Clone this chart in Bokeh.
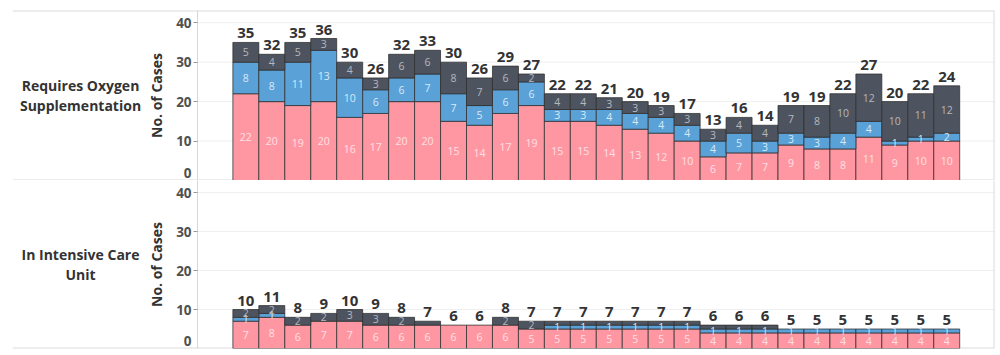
from bokeh.plotting import figure
from bokeh.layouts import column
from bokeh.models import Range1d, FixedTicker, ColumnDataSource
from bokeh.embed import file_html
from bokeh.resources import INLINE
from bokeh.core.properties import value

# ---- data ----
periods = list(range(28))
oxy_pink = [22, 20, 19, 20, 16, 17, 20, 20, 15, 14, 17, 19, 15, 15, 14, 13, 12, 10, 6, 7, 7, 9, 8, 8, 11, 9, 10, 10]
oxy_blue = [8, 8, 11, 13, 10, 6, 6, 7, 7, 5, 6, 6, 3, 3, 4, 4, 4, 4, 4, 5, 3, 3, 3, 4, 4, 1, 1, 2]
oxy_gray = [5, 4, 5, 3, 4, 3, 6, 6, 8, 7, 6, 2, 4, 4, 3, 3, 3, 3, 3, 4, 4, 7, 8, 10, 12, 10, 11, 12]

icu_pink = [7, 8, 6, 7, 7, 6, 6, 6, 6, 6, 6, 5, 5, 5, 5, 5, 5, 5, 4, 4, 4, 4, 4, 4, 4, 4, 4, 4]
icu_blue = [1, 1, 0, 0, 0, 0, 0, 0, 0, 0, 0, 0, 1, 1, 1, 1, 1, 1, 1, 1, 1, 1, 1, 1, 1, 1, 1, 1]
icu_gray = [2, 2, 2, 2, 3, 3, 2, 1, 0, 0, 2, 2, 1, 1, 1, 1, 1, 1, 1, 1, 1, 0, 0, 0, 0, 0, 0, 0]

y_ticks = [10, 20, 30, 40]
row_titles = [["Requires Oxygen", "Supplementation"], ["In Intensive Care", "Unit"]]
y_title = "No. of Cases"

PINK, PINK_TXT = "#ff97a2", "#ffe0e4"
BLUE, BLUE_TXT = "#5aa1d8", "#d8e9f6"
GRAY, GRAY_TXT = "#4e545f", "#b4b8bf"
RULE = "#dcdcdc"
FONT = "Open Sans"

# layout (data units along x): header column, axis position, right edge
X0, AXIS_X, X1 = -8.99, -1.86, 28.84
HEAD_X = -6.37
Y1 = 43.1


def make_panel(titles, pink, blue, gray, height, b_top, b_bottom, draw_top):
    p = figure(width=1000, height=height, x_range=Range1d(X0, X1), y_range=Range1d(0, Y1),
               output_backend="svg", toolbar_location=None,
               min_border_left=12, min_border_right=6, min_border_top=b_top, min_border_bottom=b_bottom)
    p.xaxis.visible = False
    p.xgrid.visible = False
    p.ygrid.visible = False
    p.outline_line_color = None
    p.background_fill_color = "white"
    p.border_fill_color = "white"

    # light grid lines within the plotting column only
    p.segment(x0=[AXIS_X] * len(y_ticks), x1=[X1] * len(y_ticks), y0=y_ticks, y1=y_ticks,
              line_color="#efefef", line_width=1)
    # panel rules (half of a 2px line is clipped at the frame edge -> 1px)
    ys = [0, Y1] if draw_top else [0]
    p.hspan(y=ys, line_color=RULE, line_width=2)
    p.vspan(x=[X1], line_color=RULE, line_width=2)

    ax = p.yaxis[0]
    ax.fixed_location = AXIS_X
    ax.ticker = FixedTicker(ticks=y_ticks)
    ax.axis_line_color = "#d6d6d6"
    ax.major_tick_line_color = "#9a9a9a"
    ax.major_tick_out = 4
    ax.major_tick_in = 0
    ax.minor_tick_line_color = None
    ax.major_label_standoff = 2
    ax.major_label_text_font = FONT
    ax.major_label_text_font_style = "bold"
    ax.major_label_text_font_size = "13.5px"
    ax.major_label_text_color = "#505050"
    ax.axis_label = y_title
    ax.axis_label_text_font = FONT
    ax.axis_label_text_font_style = "bold"
    ax.axis_label_text_font_size = "14px"
    ax.axis_label_text_color = "#333333"
    ax.axis_label_standoff = 7

    n = len(pink)
    bottoms = [0] * n
    seg_x, seg_y, seg_t, seg_c = [], [], [], []
    for vals, color, tcol, is_mid in ((pink, PINK, PINK_TXT, False), (blue, BLUE, BLUE_TXT, True),
                                      (gray, GRAY, GRAY_TXT, False)):
        xs = [periods[i] for i in range(n) if vals[i] > 0]
        b = [bottoms[i] for i in range(n) if vals[i] > 0]
        t = [bottoms[i] + vals[i] for i in range(n) if vals[i] > 0]
        src = ColumnDataSource(dict(x=xs, bottom=b, top=t))
        p.vbar(x="x", bottom="bottom", top="top", width=1.0, source=src,
               fill_color=color, line_color="#2e2e2e", line_alpha=0.75, line_width=1)
        for i in range(n):
            if vals[i] >= 2 or (is_mid and vals[i] >= 1):
                seg_x.append(periods[i])
                seg_y.append(bottoms[i] + vals[i] / 2)
                seg_t.append(str(vals[i]))
                seg_c.append(tcol)
        bottoms = [bottoms[i] + vals[i] for i in range(n)]

    p.text(x=seg_x, y=seg_y, text=seg_t, text_color=seg_c, text_align="center", text_baseline="middle",
           text_font=value(FONT), text_font_size="10.5px")
    p.text(x=periods, y=bottoms, text=[str(v) for v in bottoms], text_align="center",
           text_baseline="bottom", y_offset=-4, text_font=value(FONT), text_font_style="bold",
           text_font_size="15px", text_color="#333333")

    # zero tick label, lifted inside the panel as in the original
    p.text(x=[AXIS_X], y=[0], text=["0"], x_offset=-6, y_offset=-3, text_align="right",
           text_baseline="bottom", text_font=value(FONT), text_font_style="bold",
           text_font_size="13.5px", text_color="#505050")

    # row header
    offs = [-10, 10] if len(titles) == 2 else [0]
    p.text(x=[HEAD_X] * len(titles), y=[Y1 / 2 + 0.1] * len(titles), text=titles, y_offset=offs,
           text_align="center", text_baseline="middle", text_font=value(FONT),
           text_font_style="bold", text_font_size="14px", text_color="#333333")
    return p


p1 = make_panel(row_titles[0], oxy_pink, oxy_blue, oxy_gray, 180, 10, 0, True)
p2 = make_panel(row_titles[1], icu_pink, icu_blue, icu_gray, 175, 0, 7, False)
layout = column(p1, p2, spacing=0)

open("out.html", "w").write(file_html(layout, INLINE))
